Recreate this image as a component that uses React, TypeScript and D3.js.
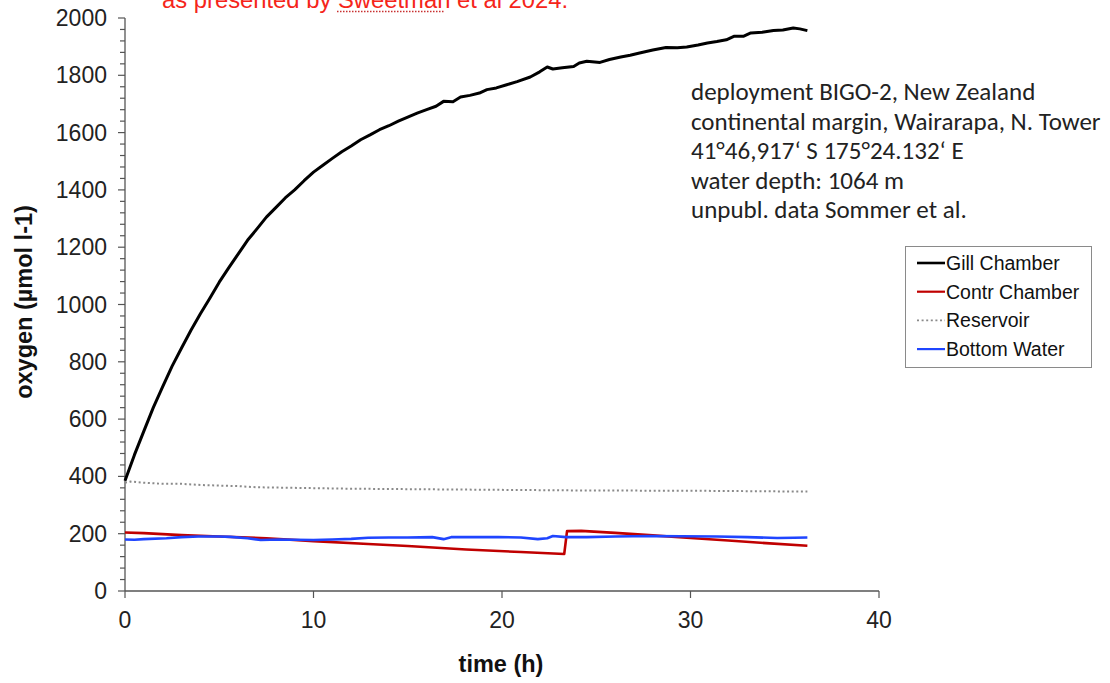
import React from "react";
import * as d3 from "d3";

const gillT = [0,0.5,1,1.5,2,2.5,3,3.5,4,4.5,5,5.5,6,6.5,7,7.5,8,8.5,9,9.5,10,10.5,11,11.5,12,12.5,13,13.5,14,14.5,15,15.5,16,16.5,16.9,17.4,17.8,18.3,18.8,19.2,19.7,20.25,20.8,21.5,22,22.4,22.7,23.2,23.8,24.1,24.5,25.2,25.7,26.3,26.8,27.3,28,28.7,29.3,29.8,30.4,30.9,31.4,31.9,32.3,32.8,33.2,33.8,34.4,34.9,35.45,35.8,36.2];
const gillV = [385,475,558,640,713,785,848,910,968,1022,1078,1128,1176,1224,1264,1305,1338,1372,1400,1432,1462,1486,1510,1533,1553,1575,1592,1610,1624,1640,1654,1668,1680,1692,1709,1708,1724,1730,1738,1750,1756,1767,1778,1794,1812,1829,1822,1826,1831,1843,1849,1845,1855,1864,1870,1878,1888,1897,1896,1899,1906,1913,1918,1924,1936,1936,1948,1950,1956,1958,1965,1962,1956];

const contrT = [0,1,3,5,7.5,10,12.9,15,18.1,21,23.3,23.45,24.2,26,28,30,32,34,36.2];
const contrV = [204,202,195,190,184,174,164,157,145,136,129,209,210,203,194,185,176,167,158];

const resT = [0,0.3,1,2,3,4,5,6,7,8,10,12,14,16,18,20,22,24,26,28,30,32,34,36.2];
const resV = [378,382,378,374,374,370,368,366,362,361,359,357,356,355,354,353,352,351,351,350,350,349,348,347];

const bottomT = [0,0.5,1,2.2,3,3.9,5,5.6,6.5,7.2,8.2,9,10,11,12,12.9,14,15,16.3,16.9,17.3,18.5,19.8,21,21.9,22.4,22.7,23.4,24.5,26,27.9,29.5,31.4,33,34.6,35.5,36.2];
const bottomV = [180,179,181,184,188,190,190,189,184,178,180,179,178,180,182,186,187,187,188,181,188,188,188,187,181,184,192,188,188,190,192,191,190,188,185,186,187];

const xTicks = [0, 10, 20, 30, 40];
const yTicks = [0, 200, 400, 600, 800, 1000, 1200, 1400, 1600, 1800, 2000];

const legendNames = ["Gill Chamber", "Contr Chamber", "Reservoir", "Bottom Water"];

const annotationLines = [
  "deployment BIGO-2, New Zealand",
  "continental margin, Wairarapa, N. Tower",
  "41°46,917‘ S 175°24.132‘ E",
  "water depth: 1064 m",
  "unpubl. data Sommer et al.",
];

const AX = "Liberation Sans, Arial, sans-serif";

export default function App() {
  const x = d3.scaleLinear().domain([0, 40]).range([125, 879]);
  const y = d3.scaleLinear().domain([0, 2000]).range([591, 18]);
  const mk = (t: number[], v: number[]) =>
    d3.line<number>().x((_, i) => x(t[i])).y((d) => y(d))(v) || "";

  const series = [
    { name: legendNames[0], d: mk(gillT, gillV), color: "#000", w: 3, dash: undefined as string | undefined },
    { name: legendNames[1], d: mk(contrT, contrV), color: "#c00000", w: 2.6, dash: undefined },
    { name: legendNames[2], d: mk(resT, resV), color: "#8a8a8a", w: 2, dash: "2,2.6" },
    { name: legendNames[3], d: mk(bottomT, bottomV), color: "#1f45ff", w: 2.6, dash: undefined },
  ];
  const minor = d3.range(0, 2001, 40);

  return (
    <svg width={1110} height={683} style={{ position: "absolute", left: 0, top: 0, background: "#fff" }}>
      <rect width={1110} height={683} fill="#fff" />
      {/* top red text */}
      <text x={162} y={8} fontFamily={AX} fontSize={23.8} fill="#f5251a">as presented by Sweetman et al 2024.</text>
      <line x1={337} x2={445} y1={11.5} y2={11.5} stroke="#c83030" strokeWidth={1.3} strokeDasharray="1.5,1.5" />

      {/* axes */}
      <line x1={x(0)} x2={x(0)} y1={y(0)} y2={y(2000)} stroke="#555" strokeWidth={1.3} />
      <line x1={x(0)} x2={x(40)} y1={y(0)} y2={y(0)} stroke="#555" strokeWidth={1.3} />
      {minor.map((v) => (
        <line key={"m" + v} x1={x(0) - (v % 200 === 0 ? 7 : 5)} x2={x(0)} y1={y(v)} y2={y(v)} stroke="#555" strokeWidth={1.2} />
      ))}
      {yTicks.map((v) => (
        <text key={"y" + v} x={107} y={y(v) + 8} textAnchor="end" fontFamily={AX} fontSize={23} fill="#222">{v}</text>
      ))}
      {xTicks.map((v) => (
        <g key={"x" + v}>
          <line x1={x(v)} x2={x(v)} y1={y(0)} y2={y(0) + 7} stroke="#555" strokeWidth={1.2} />
          <text x={x(v)} y={628} textAnchor="middle" fontFamily={AX} fontSize={23} fill="#222">{v}</text>
        </g>
      ))}
      <text x={501} y={672} textAnchor="middle" fontFamily={AX} fontSize={23.5} fontWeight="bold" fill="#111">time (h)</text>
      <text transform="translate(32,302) rotate(-90)" textAnchor="middle" fontFamily={AX} fontSize={23.5} fontWeight="bold" fill="#111">oxygen (µmol l-1)</text>

      {/* series */}
      {series.map((s) => (
        <path key={s.name} d={s.d} fill="none" stroke={s.color} strokeWidth={s.w} strokeDasharray={s.dash} strokeLinejoin="round" />
      ))}

      {/* annotation */}
      {annotationLines.map((l, i) => (
        <text key={l} x={691} y={100 + i * 29.5} fontFamily="Carlito, Lato, sans-serif" fontSize={25} fill="#222">{l}</text>
      ))}

      {/* legend */}
      <rect x={905.5} y={246.5} width={186} height={121} fill="#fff" stroke="#8a8a8a" strokeWidth={1} />
      {series.map((s, i) => (
        <g key={"lg" + s.name}>
          <line x1={917} x2={945} y1={263 + i * 28.7} y2={263 + i * 28.7} stroke={s.color} strokeWidth={s.w - 0.4} strokeDasharray={s.dash} />
          <text x={946} y={270 + i * 28.7} fontFamily={AX} fontSize={19.5} fill="#111">{s.name}</text>
        </g>
      ))}
    </svg>
  );
}
